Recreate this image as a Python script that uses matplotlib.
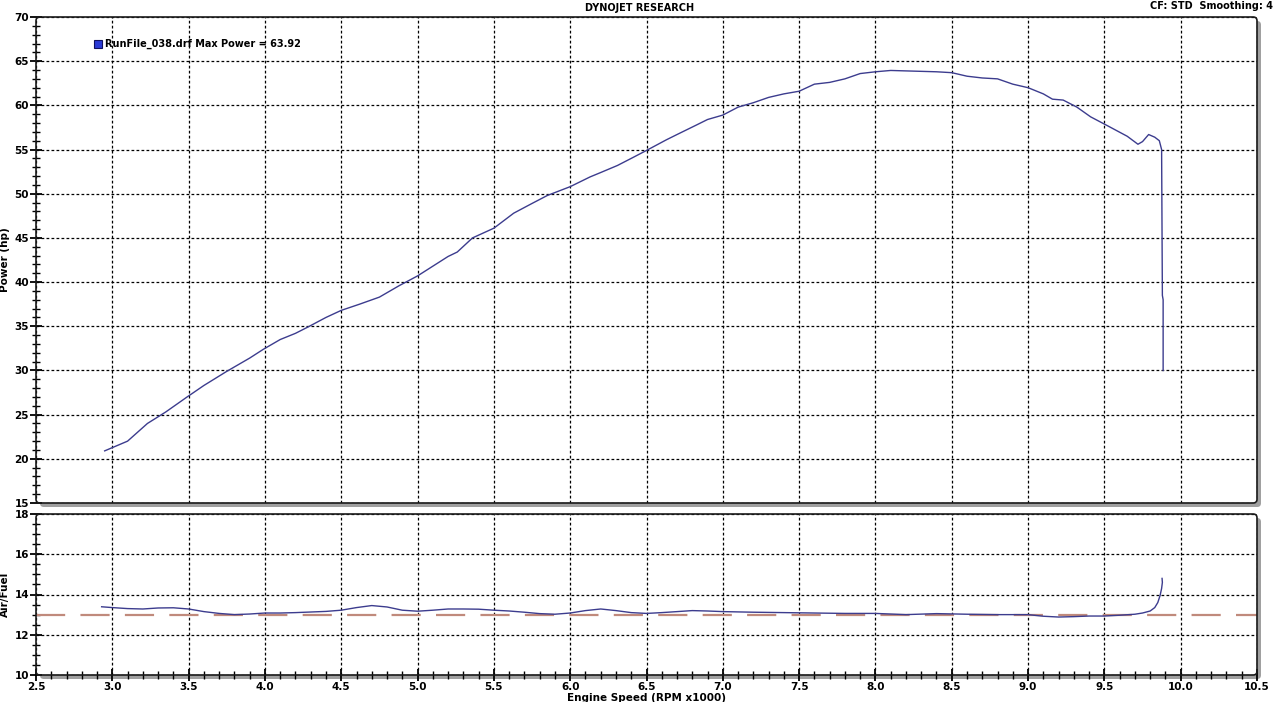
import matplotlib
matplotlib.use("Agg")
import matplotlib.pyplot as plt
from matplotlib.patches import FancyBboxPatch
from matplotlib.ticker import MultipleLocator

# power run, rpm in thousands
power_rpm = [2.95, 3.1, 3.23, 3.35, 3.49, 3.6, 3.75, 3.9, 3.99, 4.1, 4.2, 4.28, 4.4, 4.5,
             4.62, 4.75, 4.88, 5.0, 5.1, 5.2, 5.26, 5.36, 5.5, 5.63, 5.75, 5.85, 6.0, 6.13,
             6.2, 6.31, 6.4, 6.5, 6.63, 6.7, 6.83, 6.9, 7.0, 7.1, 7.2, 7.3, 7.4, 7.5, 7.6,
             7.7, 7.8, 7.9, 8.0, 8.1, 8.2, 8.3, 8.4, 8.5, 8.6, 8.7, 8.8, 8.9, 9.0, 9.1,
             9.16, 9.23, 9.32, 9.41, 9.52, 9.65, 9.72, 9.75, 9.79, 9.83, 9.86, 9.875,
             9.878, 9.88, 9.885, 9.885]
power_hp = [20.9, 22.0, 24.0, 25.3, 27.0, 28.3, 29.9, 31.4, 32.4, 33.5, 34.2, 34.9, 36.0, 36.8,
            37.5, 38.3, 39.6, 40.7, 41.8, 42.9, 43.4, 45.0, 46.1, 47.8, 48.9, 49.8, 50.8, 51.9,
            52.4, 53.2, 54.0, 54.9, 56.1, 56.7, 57.8, 58.4, 58.9, 59.8, 60.3, 60.9, 61.3, 61.6,
            62.4, 62.6, 63.0, 63.6, 63.8, 63.95, 63.9, 63.85, 63.8, 63.7, 63.3, 63.1, 63.0,
            62.4, 62.0, 61.3, 60.7, 60.6, 59.8, 58.7, 57.7, 56.5, 55.6, 55.9, 56.7, 56.4,
            56.0, 55.0, 45.0, 38.5, 38.0, 30.0]

# air/fuel ratio
afr_rpm = [2.93, 3.0, 3.1, 3.2, 3.3, 3.4, 3.5, 3.6, 3.7, 3.8, 3.9, 4.0, 4.1, 4.2, 4.3, 4.4,
           4.5, 4.6, 4.7, 4.8, 4.9, 5.0, 5.1, 5.2, 5.3, 5.4, 5.5, 5.6, 5.7, 5.8, 5.9, 6.0,
           6.1, 6.2, 6.3, 6.4, 6.5, 6.6, 6.7, 6.8, 6.9, 7.0, 7.2, 7.4, 7.6, 7.8, 8.0, 8.2,
           8.4, 8.6, 8.8, 9.0, 9.1, 9.2, 9.3, 9.4, 9.5, 9.6, 9.7, 9.75, 9.8, 9.83, 9.85,
           9.865, 9.875, 9.88, 9.878]
afr = [13.39, 13.35, 13.3, 13.28, 13.33, 13.34, 13.28, 13.15, 13.06, 13.0, 13.03, 13.08,
       13.08, 13.1, 13.13, 13.16, 13.22, 13.35, 13.45, 13.38, 13.22, 13.17, 13.22, 13.28,
       13.28, 13.27, 13.22, 13.18, 13.12, 13.05, 13.02, 13.08, 13.2, 13.28, 13.2, 13.1,
       13.06, 13.1, 13.15, 13.2, 13.18, 13.15, 13.12, 13.1, 13.08, 13.06, 13.06, 13.0,
       13.05, 13.02, 13.0, 13.0, 12.92, 12.88, 12.9, 12.93, 12.93, 12.97, 13.02, 13.08,
       13.18, 13.35, 13.6, 13.95, 14.3, 14.6, 14.8]
afr_target = 13.0

run_name = "RunFile_038.drf"
max_power = 63.92

plt.rcParams['font.family'] = 'DejaVu Sans'
plt.rcParams['font.weight'] = 'bold'
plt.rcParams['lines.scale_dashes'] = False

line_col = '#3c3c8e'
fs = 7.5

fig = plt.figure(figsize=(12.8, 7.02), dpi=100)
W, H = 1280.0, 702.0
ax1 = fig.add_axes([36 / W, 1 - 503 / H, 1221 / W, 486 / H])
ax2 = fig.add_axes([36 / W, 1 - 675 / H, 1221 / W, 161 / H])


def frame(ax):
    # rounded box with grey drop shadow instead of normal spines
    for s in ax.spines.values():
        s.set_visible(False)
    ax.set_facecolor('white')
    bb = ax.get_position()
    asp = W / H
    shadow = FancyBboxPatch((bb.x0 + 4 / W, bb.y0 - 4 / H), bb.width, bb.height,
                            boxstyle="round,pad=0,rounding_size=0.003", mutation_aspect=asp,
                            transform=fig.transFigure, fc='#a0a0a0', ec='none', zorder=-1)
    box = FancyBboxPatch((bb.x0, bb.y0), bb.width, bb.height,
                         boxstyle="round,pad=0,rounding_size=0.003", mutation_aspect=asp,
                         transform=fig.transFigure, fc='none', ec='#1a1a1a', lw=1.2, zorder=5)
    fig.patches.append(shadow)
    fig.patches.append(box)
    ax.grid(True, which='major', color='black', linestyle=(0, (2.0, 1.6)), linewidth=0.9)
    ax.set_xlim(2.5, 10.5)
    ax.xaxis.set_major_locator(MultipleLocator(0.5))


frame(ax1)
frame(ax2)

ax1.plot(power_rpm, power_hp, color=line_col, lw=1.0, zorder=3)
ax1.set_ylim(15, 70)
ax1.yaxis.set_major_locator(MultipleLocator(5))
ax1.yaxis.set_minor_locator(MultipleLocator(1))
ax1.tick_params(axis='x', which='both', length=0, labelbottom=False)
ax1.tick_params(axis='y', which='major', direction='inout', length=8, width=1.3, labelsize=fs, pad=1)
ax1.tick_params(axis='y', which='minor', direction='inout', length=6, width=1.0)
ax1.set_ylabel('Power (hp)', fontsize=fs, fontweight='bold', labelpad=4)

ax1.plot([0.051], [0.944], marker='s', ms=6, mfc='#2a3ad6', mec='#101060', mew=0.8,
         transform=ax1.transAxes, clip_on=False)
ax1.text(0.0565, 0.944, f"{run_name} Max Power = {max_power:.2f}", transform=ax1.transAxes,
         fontsize=7.0, fontweight='bold', va='center', ha='left')

ax2.plot([2.5, 10.5], [afr_target, afr_target], color='#c08a7c', lw=1.6,
         dashes=(21, 11), zorder=2)
ax2.plot(afr_rpm, afr, color=line_col, lw=1.0, zorder=3)
ax2.set_ylim(10, 18)
ax2.yaxis.set_major_locator(MultipleLocator(2))
ax2.yaxis.set_minor_locator(MultipleLocator(0.5))
ax2.xaxis.set_minor_locator(MultipleLocator(0.1))
ax2.tick_params(axis='both', which='major', direction='inout', length=8, width=1.3, labelsize=fs, pad=1)
ax2.tick_params(axis='both', which='minor', direction='inout', length=6, width=1.0)
ax2.set_xticks([2.5 + 0.5 * i for i in range(17)])
ax2.set_xticklabels([f"{2.5 + 0.5 * i:.1f}" for i in range(17)])
ax2.set_ylabel('Air/Fuel', fontsize=fs, fontweight='bold', labelpad=6)
ax2.set_xlabel('Engine Speed (RPM x1000)', fontsize=fs, fontweight='bold', labelpad=1)

fig.text(640 / W, 1 - 8 / H, 'DYNOJET RESEARCH', fontsize=fs - 0.5, fontweight='bold',
         ha='center', va='center')
fig.text(1273 / W, 1 - 6 / H, 'CF: STD  Smoothing: 4', fontsize=fs - 0.5, fontweight='bold',
         ha='right', va='center')

ax1.yaxis.set_label_coords(-26 / 1221, 0.5)
ax2.yaxis.set_label_coords(-26 / 1221, 0.5)

fig.savefig('out.png', dpi=100, facecolor='white')
